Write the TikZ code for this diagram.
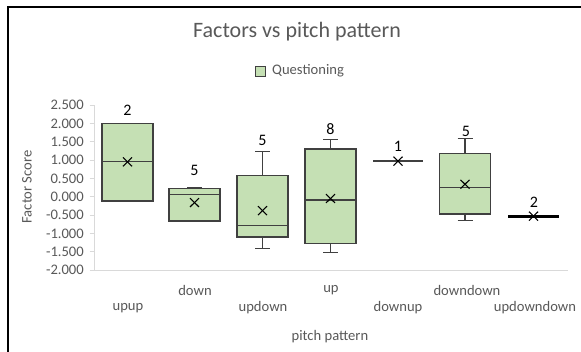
\documentclass[tikz,border=0pt]{standalone}
\usepackage{fontspec}
\setmainfont{Carlito}
\definecolor{boxgreen}{HTML}{C5E0B4}
\definecolor{boxedge}{HTML}{404040}
\definecolor{textgray}{HTML}{595959}
\definecolor{axisgray}{HTML}{D9D9D9}
\tikzset{
  lbl/.style={text=textgray, font=\fontsize{14.6}{16}\selectfont, inner sep=0pt},
  datalbl/.style={text=black, font=\fontsize{16}{18}\selectfont, inner sep=0pt},
  boxbody/.style={fill=boxgreen, draw=boxedge, line width=1.3pt},
  whisk/.style={draw=boxedge, line width=1.1pt},
  meanmark/.style={draw=black, line width=1.1pt},
  axisline/.style={draw=axisgray, line width=1pt}
}
% box with whiskers: #1 centre x, #2 q1, #3 q3, #4 median, #5 mean, #6 lower whisker, #7 upper whisker
\newcommand\bxplot[7]{%
  \draw[whisk] (#1,#6) -- (#1,#2);
  \draw[whisk] (#1,#3) -- (#1,#7);
  \draw[whisk] (#1-7.5,#6) -- (#1+7.5,#6);
  \draw[whisk] (#1-7.5,#7) -- (#1+7.5,#7);
  \draw[boxbody] (#1-25.5,#2) rectangle (#1+25.5,#3);
  \draw[whisk] (#1-25.5,#4) -- (#1+25.5,#4);
  \draw[meanmark] (#1-4.5,#5) ++(0,0.12) -- ++(9,-0.24);
  \draw[meanmark] (#1-4.5,#5) ++(0,-0.12) -- ++(9,0.24);
}
\begin{document}
\begin{tikzpicture}[x=1pt,y=-1pt]
\useasboundingbox (0,0) rectangle (581,351);
\fill[white] (0,0) rectangle (581,351);

% outer chart frame
\draw[black, line width=2pt] (8,360) -- (8,6.5) -- (600,6.5);

% title and legend
\node[text=textgray, font=\fontsize{22}{24}\selectfont, inner sep=0pt] (title) at (297,32) {Factors vs pitch pattern};
\node[boxbody, line width=1pt, minimum width=10pt, minimum height=10pt, inner sep=0pt] (legkey) at (260,71) {};
\node[lbl, anchor=west] (legtext) at (272,71) {Questioning};

% axes
\draw[axisline] (94,105) -- (94,270) -- (568,270);
\foreach \v/\t [count=\i] in {2.5/2.500, 2/2.000, 1.5/1.500, 1/1.000, 0.5/0.500, 0/0.000,
    -0.5/-0.500, -1/-1.000, -1.5/-1.500, -2/-2.000} {
  \draw[axisline] (89.5,{196.7-36.67*\v}) -- (94,{196.7-36.67*\v});
  \node[lbl, anchor=east] (tick\i) at (84,{196.7-36.67*\v}) {\t};
}
\node[lbl, rotate=90] (ytitle) at (27,187) {Factor Score};

% category labels
\node[lbl] (c1) at (128,308) {upup};
\node[lbl] (c2) at (195,290) {down};
\node[lbl] (c3) at (263,308) {updown};
\node[lbl] (c4) at (331,290) {up};
\node[lbl] (c5) at (398,308) {downup};
\node[lbl] (c6) at (467,290) {downdown};
\node[lbl] (c7) at (535,308) {updowndown};
\node[lbl] (xtitle) at (330,337) {pitch pattern};

% box plots, drawn in data units
\begin{scope}[shift={(0,196.7)}, y=36.67pt]
  % upup: two values, no whiskers
  \draw[boxbody] (127.5-25.5,-0.12) rectangle (127.5+25.5,2.0);
  \draw[whisk] (127.5-25.5,0.95) -- (127.5+25.5,0.95);
  \draw[meanmark] (127.5-4.5,0.95) ++(0,0.12) -- ++(9,-0.24);
  \draw[meanmark] (127.5-4.5,0.95) ++(0,-0.12) -- ++(9,0.24);
  % down
  \bxplot{194.5}{-0.66}{0.226}{0.065}{-0.16}{-0.66}{0.24}
  % updown
  \bxplot{262.5}{-1.10}{0.57}{-0.78}{-0.38}{-1.41}{1.24}
  % up
  \bxplot{330.5}{-1.27}{1.30}{-0.09}{-0.05}{-1.52}{1.56}
  % downup: single value
  \draw[boxedge, line width=1.6pt] (373,0.97) -- (423,0.97);
  \draw[meanmark] (398-4.5,0.97) ++(0,0.12) -- ++(9,-0.24);
  \draw[meanmark] (398-4.5,0.97) ++(0,-0.12) -- ++(9,0.24);
  % downdown
  \bxplot{465}{-0.47}{1.18}{0.26}{0.34}{-0.64}{1.59}
  % updowndown: both values equal
  \draw[black, line width=3pt] (508,-0.53) -- (559,-0.53);
  \draw[meanmark] (533.5-4.5,-0.53) ++(0,0.12) -- ++(9,-0.24);
  \draw[meanmark] (533.5-4.5,-0.53) ++(0,-0.12) -- ++(9,0.24);
\end{scope}

% counts above each box
\node[datalbl] (n1) at (127.5,110) {2};
\node[datalbl] (n2) at (194.5,170) {5};
\node[datalbl] (n3) at (262.5,140) {5};
\node[datalbl] (n4) at (330.5,129) {8};
\node[datalbl] (n5) at (398,146) {1};
\node[datalbl] (n6) at (466,131.5) {5};
\node[datalbl] (n7) at (534,202) {2};
\end{tikzpicture}
\end{document}
